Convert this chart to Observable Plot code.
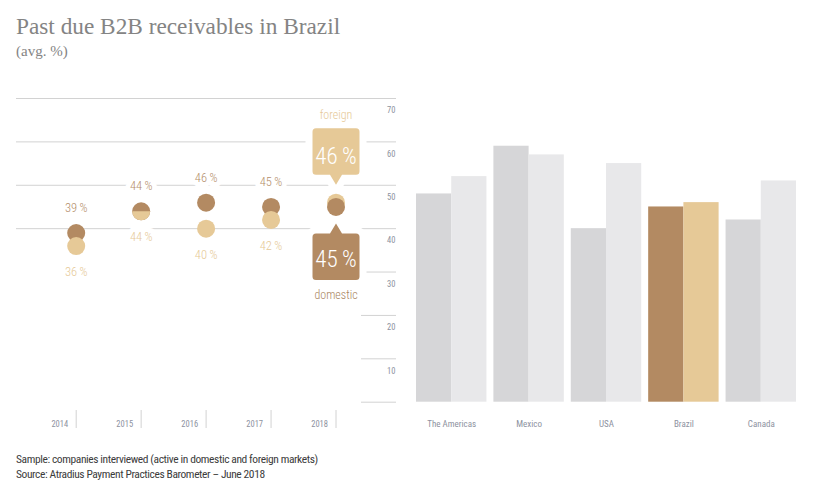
<!DOCTYPE html>
<html>
<head>
<meta charset="utf-8">
<script src="https://cdn.jsdelivr.net/npm/d3@7"></script>
<script src="https://cdn.jsdelivr.net/npm/@observablehq/plot@0.6"></script>
<style>
  html, body { margin: 0; padding: 0; background: #fff; }
  #wrap { position: relative; width: 813px; height: 497px; overflow: hidden; }
  .title { position: absolute; left: 16px; top: 15px; font: 23.3px/23px "Liberation Serif", "DejaVu Serif", serif; color: #848484; white-space: nowrap; }
  .subtitle { position: absolute; left: 16px; top: 44px; font: 15px/15px "Liberation Serif", "DejaVu Serif", serif; color: #848484; white-space: nowrap; }
  .caption { position: absolute; left: 16px; top: 452px; font: 400 11.5px/15px "Liberation Sans Narrow", "Arial Narrow", "Roboto Condensed", sans-serif; letter-spacing: -0.4px; color: #3c3c3c; white-space: nowrap; }
  #left { position: absolute; left: 0; top: 80px; }
  #right { position: absolute; left: 400px; top: 80px; }
</style>
</head>
<body>
<div id="wrap">
  <div class="title">Past due B2B receivables in Brazil</div>
  <div class="subtitle">(avg. %)</div>
  <div id="left"></div>
  <div id="right"></div>
  <div class="caption">Sample: companies interviewed (active in domestic and foreign markets)<br>Source: Atradius Payment Practices Barometer – June 2018</div>
</div>
<script>
// ---- data ----
const years = [2014, 2015, 2016, 2017, 2018];
const domesticByYear = [39, 44, 46, 45, 45];
const foreignByYear = [36, 44, 40, 42, 46];

const countries = ["The Americas", "Mexico", "USA", "Brazil", "Canada"];
const domesticByCountry = [48, 59, 40, 45, 42];
const foreignByCountry = [52, 57, 55, 46, 51];
const highlightCountry = "Brazil";

const yTicks = [0, 10, 20, 30, 40, 50, 60, 70];
const seriesNames = {domestic: "domestic", foreign: "foreign"};

// ---- styling ----
const NARROW = "'Liberation Sans Narrow', 'Arial Narrow', 'Roboto Condensed', sans-serif";
const DOM = "#b38a62";
const FOR = "#e6c997";
const GRID = "#d2d2d2";
const TICKTEXT = "#8d92a0";
const fmt = v => `${v}\u2009%`;

const rows = years.flatMap((year, i) => [
  {year, type: "domestic", value: domesticByYear[i], i},
  {year, type: "foreign", value: foreignByYear[i], i}
]);
const last = years.length - 1;
const isEqual = d => domesticByYear[d.i] === foreignByYear[d.i];
const fullDots = rows
  .filter(d => !(d.type === "foreign" && isEqual(d)))
  .sort((a, b) => b.value - a.value);
const halfDots = rows.filter(d => d.type === "foreign" && isEqual(d));

const halfCircle = {
  draw(ctx, size) {
    const r = Math.sqrt(size / Math.PI);
    ctx.moveTo(r, 0);
    ctx.arc(0, 0, r, 0, Math.PI);
    ctx.closePath();
  }
};

function callout(dir) {
  // dir = -1: box above the tip; dir = +1: box below the tip
  const w = 23.5, gap = 10, h = 46.5, r = 3.5, pw = 6;
  return {
    draw(ctx) {
      const y0 = dir * gap, y1 = dir * (gap + h);
      ctx.moveTo(0, 0);
      ctx.lineTo(pw, y0);
      ctx.arcTo(w, y0, w, y1, r);
      ctx.arcTo(w, y1, -w, y1, r);
      ctx.arcTo(-w, y1, -w, y0, r);
      ctx.arcTo(-w, y0, -pw, y0, r);
      ctx.lineTo(-pw, y0);
      ctx.closePath();
    }
  };
}

const lastDom = [{year: years[last], value: domesticByYear[last]}];
const lastFor = [{year: years[last], value: foreignByYear[last]}];
const earlier = rows.filter(d => d.i < last);

const yScale = {domain: [0, 70], range: [321.7, 18], axis: null};

const left = Plot.plot({
  width: 400, height: 360,
  marginLeft: 16, marginRight: 4, marginTop: 18, marginBottom: 30,
  x: {domain: [years[0], years[last]], range: [75.7, 335.5], axis: null},
  y: yScale,
  color: {type: "identity"},
  style: {fontFamily: NARROW, background: "transparent", overflow: "visible"},
  marks: [
    Plot.ruleY(yTicks.filter(t => t >= 40), {y: d => d, stroke: GRID}),
    Plot.ruleY(yTicks.filter(t => t < 40), {y: d => d, stroke: GRID, insetLeft: 345}),
    Plot.text(yTicks.filter(t => t > 0), {y: d => d, text: d => String(d), frameAnchor: "right", textAnchor: "end", dx: -1, dy: 12, fontSize: 8.5, fill: TICKTEXT}),
    Plot.axisX({ticks: years, tickSize: 18, tickFormat: () => "", stroke: GRID, label: null}),
    Plot.text(years, {x: d => d, text: d => String(d), frameAnchor: "bottom", textAnchor: "end", lineAnchor: "bottom", dx: -8, dy: 16.7, fontSize: 8.5, fill: TICKTEXT}),
    // callout boxes for the latest year
    Plot.dot(lastFor, {x: "year", y: "value", symbol: callout(-1), r: 5, fill: FOR, stroke: "white", strokeWidth: 14, strokeLinejoin: "round", paintOrder: "stroke", dy: -18}),
    Plot.dot(lastDom, {x: "year", y: "value", symbol: callout(1), r: 5, fill: DOM, stroke: "white", strokeWidth: 14, strokeLinejoin: "round", paintOrder: "stroke", dy: 16.5}),
    // value labels for earlier years
    Plot.text(earlier.filter(d => d.type === "domestic"), {x: "year", y: "value", text: d => fmt(d.value), dy: -25, fontSize: 12.5, fontWeight: 300, fill: "#b48e6a", stroke: "white", strokeWidth: 10, paintOrder: "stroke"}),
    Plot.text(earlier.filter(d => d.type === "foreign"), {x: "year", y: "value", text: d => fmt(d.value), dy: 26, fontSize: 12.5, fontWeight: 300, fill: FOR, stroke: "white", strokeWidth: 10, paintOrder: "stroke"}),
    // dots
    Plot.dot(fullDots, {x: "year", y: "value", r: 9, fill: d => d.type === "domestic" ? DOM : FOR}),
    Plot.dot(halfDots, {x: "year", y: "value", r: 9, symbol: halfCircle, fill: FOR}),
    // callout texts
    Plot.text(lastFor, {x: "year", y: "value", text: d => fmt(d.value), dy: -46.3, fontSize: 23, fontWeight: 300, fill: "white"}),
    Plot.text(lastDom, {x: "year", y: "value", text: d => fmt(d.value), dy: 52.3, fontSize: 23, fontWeight: 300, fill: "white"}),
    Plot.text(lastFor, {x: "year", y: "value", text: () => seriesNames.foreign, dy: -87, fontSize: 12, fontWeight: 300, fill: FOR}),
    Plot.text(lastDom, {x: "year", y: "value", text: () => seriesNames.domestic, dy: 88.5, fontSize: 12, fontWeight: 300, fill: "#a98561"})
  ]
});
document.getElementById("left").append(left);

const bars = countries.flatMap((country, i) => [
  {country, type: "domestic", value: domesticByCountry[i]},
  {country, type: "foreign", value: foreignByCountry[i]}
]);
const barFill = d => d.country === highlightCountry
  ? (d.type === "domestic" ? DOM : FOR)
  : (d.type === "domestic" ? "#d6d6d8" : "#e8e8ea");

const right = Plot.plot({
  width: 413, height: 360,
  marginLeft: 16, marginRight: 17, marginTop: 18, marginBottom: 30,
  fx: {domain: countries, paddingInner: 0.09, paddingOuter: 0, round: false, label: null},
  x: {domain: ["domestic", "foreign"], padding: 0, round: false, axis: null},
  y: yScale,
  color: {type: "identity"},
  style: {fontFamily: NARROW, background: "transparent", overflow: "visible"},
  marks: [
    Plot.barY(bars, {fx: "country", x: "type", y: "value", fill: barFill}),
    Plot.axisFx({anchor: "bottom", tickSize: 0, tickPadding: 10.5, fontSize: 9, fill: TICKTEXT, label: null})
  ]
});
document.getElementById("right").append(right);
</script>
</body>
</html>
